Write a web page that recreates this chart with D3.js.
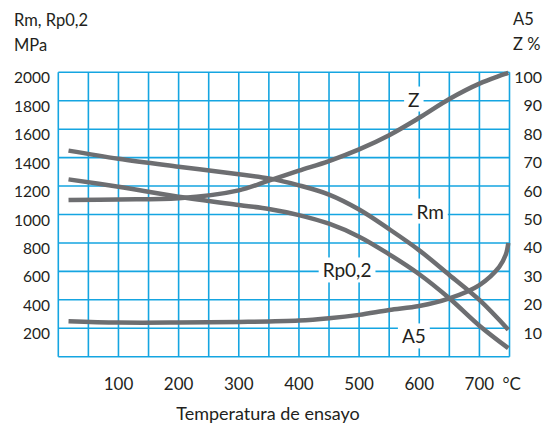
<!DOCTYPE html>
<html>
<head>
<meta charset="utf-8">
<script src="https://cdn.jsdelivr.net/npm/d3@7"></script>
<style>
  html, body { margin: 0; padding: 0; background: #fff; }
  svg { display: block; font-family: Lato, "Open Sans", sans-serif; }
</style>
</head>
<body>
<svg id="chart" width="547" height="425"></svg>
<script>
// ---- data ----
const temps = [17, 100, 200, 300, 350, 400, 450, 500, 550, 600, 650, 700, 748];
const rmValues = [1449, 1392, 1336, 1283, 1254, 1205, 1140, 1035, 897, 748, 575, 399, 190];
const rpValues = [1247, 1195, 1125, 1067, 1039, 996, 935, 844, 720, 580, 411, 218, 60];
const zValues  = [55.1, 55.3, 55.7, 58.5, 61.9, 65.4, 68.8, 72.9, 77.9, 84.0, 90.6, 96.0, 99.8];
const a5Temps  = [17, 100, 200, 300, 400, 450, 500, 550, 600, 650, 700, 733, 744, 748];
const a5Values = [12.5, 12.0, 12.0, 12.2, 12.7, 13.5, 14.7, 16.4, 17.8, 20.5, 25.2, 31.6, 36.0, 40.0];

const xTicks = [100, 200, 300, 400, 500, 600, 700];
const yLeftTicks = [200, 400, 600, 800, 1000, 1200, 1400, 1600, 1800, 2000];
const yRightTicks = [10, 20, 30, 40, 50, 60, 70, 80, 90, 100];

const curveLabels = ["Z", "Rm", "Rp0,2", "A5"];
const labelTemps = [591, 618, 480, 591];
const labelValues = [90.6, 1024, 610, 7.3];
const labelAxis = ["right", "left", "left", "right"];

// ---- layout ----
const pLeft = 58.3, pRight = 509.5, pTop = 72.3, pBottom = 356.7;
const svg = d3.select("#chart");

const x = d3.scaleLinear().domain([0, 750]).range([pLeft, pRight]);
const yL = d3.scaleLinear().domain([0, 2000]).range([pBottom, pTop]);
const yR = d3.scaleLinear().domain([0, 100]).range([pBottom, pTop]);

const gridColor = "#15a5e1";
const curveColor = "#6d6e71";
const textColor = "#231f20";

// grid
const grid = svg.append("g");
grid.selectAll("line.v").data(d3.range(0, 751, 50)).join("line").attr("class", "v")
  .attr("x1", d => x(d)).attr("x2", d => x(d))
  .attr("y1", pTop).attr("y2", pBottom)
  .attr("stroke", gridColor).attr("stroke-width", 1.6);
grid.selectAll("line.h").data(d3.range(0, 2001, 200)).join("line").attr("class", "h")
  .attr("x1", pLeft).attr("x2", pRight)
  .attr("y1", d => yL(d)).attr("y2", d => yL(d))
  .attr("stroke", gridColor).attr("stroke-width", 1.6);

// curves
const curve = d3.curveCatmullRom.alpha(0.5);
const lineL = d3.line().x(d => x(d[0])).y(d => yL(d[1])).curve(curve);
const lineR = d3.line().x(d => x(d[0])).y(d => yR(d[1])).curve(curve);

const curves = svg.append("g").attr("fill", "none").attr("stroke", curveColor)
  .attr("stroke-width", 4.5).attr("stroke-linecap", "butt");
curves.append("path").attr("d", lineL(d3.zip(temps, rmValues)));
curves.append("path").attr("d", lineL(d3.zip(temps, rpValues)));
curves.append("path").attr("d", lineR(d3.zip(temps, zValues)));
curves.append("path").attr("d", lineR(d3.zip(a5Temps, a5Values)));

// curve labels with white boxes
const labG = svg.append("g");
curveLabels.forEach((t, i) => {
  const cx = x(labelTemps[i]);
  const cy = labelAxis[i] === "left" ? yL(labelValues[i]) : yR(labelValues[i]);
  const g = labG.append("g");
  const txt = g.append("text").attr("x", cx).attr("y", cy)
    .attr("text-anchor", "middle").attr("dominant-baseline", "central")
    .attr("font-size", 19).attr("fill", textColor).text(t);
  const bb = txt.node().getBBox();
  g.insert("rect", "text")
    .attr("x", bb.x - 4).attr("y", bb.y - 1)
    .attr("width", bb.width + 8).attr("height", bb.height + 2)
    .attr("fill", "#fff");
});

// left tick labels
svg.append("g").selectAll("text").data(yLeftTicks).join("text")
  .attr("x", 50).attr("y", d => yL(d) + 5)
  .attr("text-anchor", "end").attr("dominant-baseline", "central")
  .attr("font-size", 15.5).attr("fill", textColor).text(d => d);

// right tick labels
svg.append("g").selectAll("text").data(yRightTicks).join("text")
  .attr("x", 542).attr("y", d => yR(d) + 4)
  .attr("text-anchor", "end").attr("dominant-baseline", "central")
  .attr("font-size", 16).attr("fill", textColor).text(d => d);

// x tick labels
svg.append("g").selectAll("text").data(xTicks).join("text")
  .attr("x", d => x(d)).attr("y", 390)
  .attr("text-anchor", "middle")
  .attr("font-size", 17).attr("fill", textColor).text(d => d);
svg.append("text").attr("x", x(700) + 23).attr("y", 390)
  .attr("font-size", 17).attr("fill", textColor).text("°C");

// axis titles
svg.append("text").attr("x", 14).attr("y", 26).attr("font-size", 16.5).attr("fill", textColor).text("Rm, Rp0,2");
svg.append("text").attr("x", 14).attr("y", 51).attr("font-size", 16.5).attr("fill", textColor).text("MPa");
svg.append("text").attr("x", 513).attr("y", 25).attr("font-size", 16.5).attr("fill", textColor).text("A5");
svg.append("text").attr("x", 513).attr("y", 50).attr("font-size", 16.5).attr("fill", textColor).text("Z %");
svg.append("text").attr("x", 268).attr("y", 420).attr("text-anchor", "middle")
  .attr("font-size", 18).attr("fill", textColor).text("Temperatura de ensayo");
</script>
</body>
</html>
